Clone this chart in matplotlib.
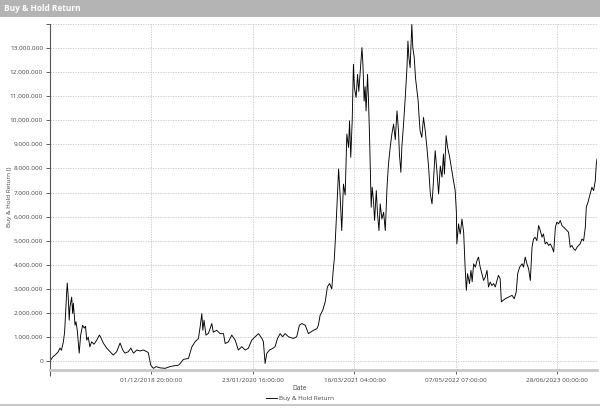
import matplotlib
matplotlib.use("Agg")
import matplotlib.pyplot as plt
import matplotlib.dates as mdates
from matplotlib.patches import Rectangle
from matplotlib.ticker import FuncFormatter, FixedLocator
import pandas as pd

plt.rcParams['font.family'] = ['Open Sans', 'DejaVu Sans']

title = "Buy & Hold Return"
x_label = "Date"
y_label = "Buy & Hold Return ()"
series_name = "Buy & Hold Return"

dates = [
    "2017-10-12", "2017-10-23", "2017-11-02", "2017-11-15", "2017-11-22", "2017-11-28",
    "2017-12-06", "2017-12-11", "2017-12-17", "2017-12-20", "2017-12-22", "2017-12-26",
    "2017-12-30", "2018-01-02", "2018-01-09", "2018-01-13", "2018-01-16", "2018-01-23",
    "2018-01-27", "2018-02-01", "2018-02-09", "2018-02-15", "2018-02-23", "2018-03-02",
    "2018-03-07", "2018-03-12", "2018-03-18", "2018-03-25", "2018-04-01", "2018-04-11",
    "2018-04-22", "2018-05-03", "2018-05-08", "2018-05-19", "2018-06-02", "2018-06-16",
    "2018-06-29", "2018-07-13", "2018-07-27", "2018-08-07", "2018-08-16", "2018-08-30",
    "2018-09-09", "2018-09-20", "2018-10-04", "2018-10-17", "2018-10-31", "2018-11-14",
    "2018-11-20", "2018-11-30", "2018-12-11", "2018-12-22", "2019-01-07", "2019-01-28",
    "2019-02-17", "2019-03-03", "2019-03-24", "2019-03-31", "2019-04-13", "2019-05-04",
    "2019-05-18", "2019-05-31", "2019-06-14", "2019-06-21", "2019-06-28", "2019-07-02",
    "2019-07-07", "2019-07-15", "2019-07-25", "2019-08-08", "2019-08-14", "2019-08-28",
    "2019-09-11", "2019-09-25", "2019-10-02", "2019-10-15", "2019-10-29", "2019-11-12",
    "2019-11-25", "2019-12-09", "2019-12-23", "2020-01-05", "2020-01-19", "2020-02-02",
    "2020-02-16", "2020-03-01", "2020-03-07", "2020-03-14", "2020-03-21", "2020-04-01",
    "2020-04-15", "2020-04-24", "2020-05-04", "2020-05-15", "2020-05-25", "2020-06-04",
    "2020-06-18", "2020-07-08", "2020-07-22", "2020-08-02", "2020-08-12", "2020-08-26",
    "2020-09-08", "2020-09-18", "2020-09-29", "2020-10-13", "2020-10-19", "2020-10-26",
    "2020-11-06", "2020-11-16", "2020-11-20", "2020-11-25", "2020-12-04", "2020-12-13",
    "2020-12-20", "2020-12-23", "2020-12-27", "2021-01-03", "2021-01-10", "2021-01-16",
    "2021-01-23", "2021-01-30", "2021-02-06", "2021-02-13", "2021-02-20", "2021-02-24",
    "2021-03-01", "2021-03-07", "2021-03-12", "2021-03-16", "2021-03-23", "2021-03-29",
    "2021-04-03", "2021-04-09", "2021-04-16", "2021-04-20", "2021-04-25", "2021-04-29",
    "2021-05-03", "2021-05-09", "2021-05-13", "2021-05-17", "2021-05-20", "2021-05-24",
    "2021-05-28", "2021-06-02", "2021-06-07", "2021-06-14", "2021-06-19", "2021-06-25",
    "2021-06-30", "2021-07-07", "2021-07-14", "2021-07-21", "2021-07-28", "2021-08-03",
    "2021-08-10", "2021-08-17", "2021-08-24", "2021-08-31", "2021-09-07", "2021-09-13",
    "2021-09-17", "2021-09-23", "2021-09-27", "2021-10-04", "2021-10-11", "2021-10-18",
    "2021-10-22", "2021-10-26", "2021-10-31", "2021-11-07", "2021-11-11", "2021-11-17",
    "2021-11-22", "2021-11-28", "2021-12-03", "2021-12-07", "2021-12-11", "2021-12-18",
    "2021-12-25", "2022-01-01", "2022-01-08", "2022-01-15", "2022-01-22", "2022-01-29",
    "2022-02-04", "2022-02-11", "2022-02-18", "2022-02-25", "2022-03-04", "2022-03-11",
    "2022-03-17", "2022-03-21", "2022-03-28", "2022-04-03", "2022-04-11", "2022-04-19",
    "2022-04-27", "2022-05-04", "2022-05-09", "2022-05-11", "2022-05-18", "2022-05-22",
    "2022-05-25", "2022-06-01", "2022-06-08", "2022-06-14", "2022-06-19", "2022-06-24",
    "2022-07-02", "2022-07-08", "2022-07-13", "2022-07-19", "2022-07-26", "2022-08-02",
    "2022-08-08", "2022-08-15", "2022-08-22", "2022-08-29", "2022-09-05", "2022-09-12",
    "2022-09-18", "2022-09-25", "2022-10-02", "2022-10-09", "2022-10-16", "2022-10-23",
    "2022-10-29", "2022-11-05", "2022-11-10", "2022-11-17", "2022-11-26", "2022-12-10",
    "2022-12-24", "2023-01-02", "2023-01-10", "2023-01-16", "2023-01-24", "2023-02-03",
    "2023-02-09", "2023-02-16", "2023-02-23", "2023-03-02", "2023-03-09", "2023-03-16",
    "2023-03-22", "2023-03-29", "2023-04-05", "2023-04-12", "2023-04-19", "2023-04-26",
    "2023-05-02", "2023-05-09", "2023-05-16", "2023-05-23", "2023-05-30", "2023-06-06",
    "2023-06-13", "2023-06-20", "2023-06-26", "2023-07-03", "2023-07-10", "2023-07-17",
    "2023-07-24", "2023-07-31", "2023-08-07", "2023-08-13", "2023-08-20", "2023-08-27",
    "2023-09-03", "2023-09-10", "2023-09-17", "2023-09-23", "2023-09-30", "2023-10-07",
    "2023-10-14", "2023-10-21", "2023-10-25", "2023-11-01", "2023-11-10", "2023-11-17",
    "2023-11-24", "2023-12-01", "2023-12-05", "2023-12-08",
]

# values in millions
values_m = [
    0.0, 0.17, 0.25, 0.39, 0.54, 0.45,
    0.8, 1.2, 2.4, 2.94, 3.24, 2.66,
    1.7, 2.25, 2.66, 1.98, 2.4, 1.49,
    1.63, 1.28, 0.33, 1.08, 1.49, 1.37,
    1.45, 0.87, 1.0, 0.59, 0.8, 0.7,
    0.87, 1.08, 1.0, 0.75, 0.54, 0.39,
    0.25, 0.39, 0.75, 0.46, 0.33, 0.39,
    0.54, 0.33, 0.46, 0.42, 0.46, 0.39,
    0.35, -0.17, -0.3, -0.23, -0.28, -0.3,
    -0.23, -0.2, -0.17, -0.1, 0.07, 0.11,
    0.59, 0.8, 0.94, 1.42, 1.97, 1.28,
    1.7, 1.08, 1.15, 1.56, 1.2, 1.28,
    1.14, 1.14, 0.73, 0.8, 1.08, 0.87,
    0.46, 0.6, 0.46, 0.53, 0.87, 1.01,
    1.14, 0.94, 0.8, -0.1, 0.32, 0.46,
    0.53, 0.6, 0.94, 1.14, 1.01, 1.14,
    1.01, 0.94, 1.01, 1.49, 1.56, 1.49,
    1.14, 1.21, 1.28, 1.35, 1.49, 1.9,
    2.11, 2.46, 2.73, 3.08, 3.22, 3.0,
    3.9, 4.18, 4.9, 6.39, 7.98, 6.94,
    5.42, 7.35, 6.9, 9.43, 8.87, 9.98,
    8.46, 10.0, 12.33, 11.36, 10.95, 11.91,
    11.2, 12.05, 13.02, 12.33, 10.8, 11.4,
    10.39, 11.91, 10.8, 9.43, 8.05, 6.39,
    7.22, 6.7, 5.84, 7.08, 6.11, 5.42,
    6.53, 5.9, 6.18, 5.42, 7.22, 8.18,
    8.87, 9.43, 9.84, 9.2, 10.39, 9.6,
    8.6, 7.84, 8.9, 9.84, 10.95, 12.19,
    13.29, 12.6, 12.19, 13.98, 13.02, 12.6,
    11.77, 11.22, 10.8, 10.12, 9.57, 9.29,
    10.12, 9.57, 8.87, 8.05, 6.94, 6.53,
    7.49, 8.74, 7.91, 6.94, 8.1, 7.64,
    8.6, 7.77, 9.36, 8.87, 8.5, 8.0,
    7.5, 7.1, 6.2, 4.87, 5.7, 5.42,
    5.28, 5.9, 5.35, 3.9, 2.94, 3.63,
    3.22, 3.77, 3.3, 4.04, 3.9, 4.18,
    4.32, 3.9, 3.63, 3.35, 3.49, 3.77,
    3.08, 3.28, 3.14, 3.22, 3.08, 3.35,
    3.56, 3.42, 2.46, 2.52, 2.59, 2.66,
    2.73, 2.59, 2.87, 3.63, 3.9, 4.04,
    3.9, 4.32, 4.04, 3.83, 3.35, 4.73,
    5.07, 5.14, 5.0, 5.63, 5.42, 5.15,
    5.28, 4.87, 4.94, 4.8, 4.87, 4.73,
    4.53, 5.56, 5.77, 5.7, 5.84, 5.63,
    5.56, 5.49, 5.42, 5.35, 4.73, 4.8,
    4.66, 4.6, 4.73, 4.8, 4.87, 5.07,
    5.0, 5.56, 6.39, 6.6, 6.94, 7.22,
    7.08, 7.49, 8.18, 8.39,
]

tick_dates = ["2018-12-01 20:00", "2020-01-23 16:00", "2021-03-16 04:00",
              "2022-05-07 07:00", "2023-06-28 00:00"]
y_ticks = [0, 1e6, 2e6, 3e6, 4e6, 5e6, 6e6, 7e6, 8e6, 9e6, 10e6, 11e6, 12e6, 13e6, 14e6]

x = pd.to_datetime(dates)
y = [v * 1e6 for v in values_m]
xt = pd.to_datetime(tick_dates)

W, H = 600, 408
fig = plt.figure(figsize=(W / 100, H / 100), dpi=100)
fig.patch.set_facecolor('white')

# title band
fig.patches.append(Rectangle((0, 1 - 17 / H), 1, 17 / H, transform=fig.transFigure,
                             facecolor='#b4b4b4', edgecolor='none', zorder=0))
fig.text(4 / W, 1 - 8.5 / H, title, color='white', fontsize=6, fontweight='bold',
         ha='left', va='center')
# bottom separator
fig.patches.append(Rectangle((0, 2 / H), 1, 2 / H, transform=fig.transFigure,
                             facecolor='#c8c8c8', edgecolor='none', zorder=0))

ax = fig.add_axes([50 / W, 38 / H, 547 / W, 346 / H])
ax.plot(x, y, color='black', lw=0.65, label=series_name)

ax.set_xlim(x[0], x[-1])
ax.set_ylim(-0.37e6, 14e6)

ax.set_yticks(y_ticks)
ax.yaxis.set_major_formatter(FuncFormatter(
    lambda v, p: '' if v >= 14e6 else f"{int(round(v)):,}".replace(',', '.')))
ax.set_xticks(xt)
ax.xaxis.set_major_formatter(mdates.DateFormatter('%d/%m/%Y %H:%M:%S'))
ax.xaxis.set_minor_locator(FixedLocator([mdates.date2num(x[0])]))

ax.grid(True, which='major', color='#c4c4c4', linestyle=(0, (1.5, 1.5)), lw=0.6)
ax.tick_params(axis='both', labelsize=4.6, colors='#444444', length=3, width=0.6,
               pad=2)
ax.tick_params(axis='x', pad=3)
ax.tick_params(axis='x', which='minor', length=4, width=0.8, color='#555555')

for s in ['top', 'right']:
    ax.spines[s].set_visible(False)
ax.spines['left'].set_color('#555555')
ax.spines['left'].set_linewidth(0.8)
ax.spines['bottom'].set_color('#c8c8c8')
ax.spines['bottom'].set_linewidth(2)

fig.text(300 / W, 1 - 389 / H, x_label, fontsize=4.8, color='#444444',
         ha='center', va='center')
fig.text(10 / W, 1 - 197 / H, y_label, fontsize=4.6, color='#444444',
         ha='center', va='center', rotation=90)

leg = fig.legend(loc='center', bbox_to_anchor=(300 / W, 1 - 398 / H), frameon=False,
                 fontsize=4.6, handlelength=1.6, handletextpad=0.3, borderpad=0)
for t in leg.get_texts():
    t.set_color('#444444')

fig.savefig('out.png', dpi=100)
